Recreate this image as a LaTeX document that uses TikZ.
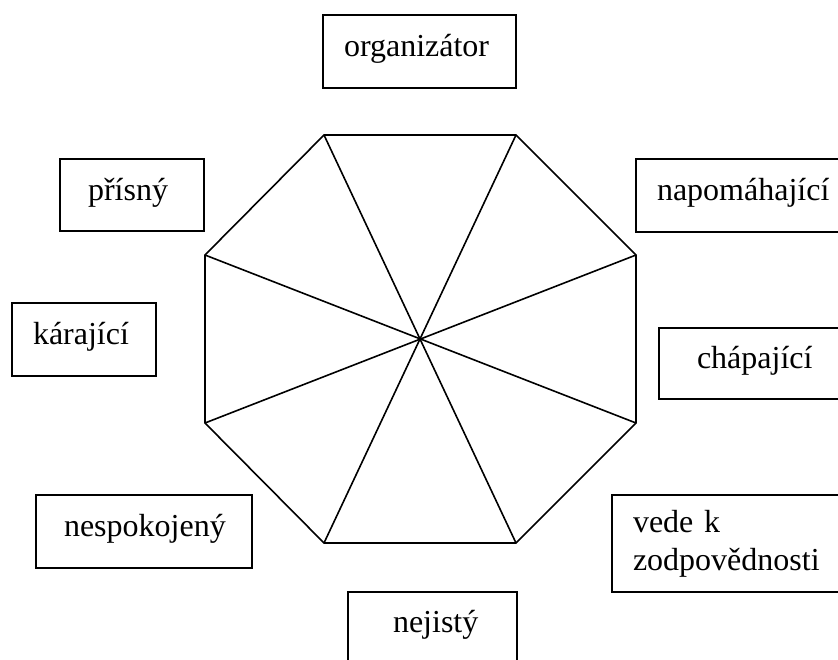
\documentclass[tikz,border=0pt]{standalone}
\usepackage{fontspec}
\setmainfont{Liberation Serif}
\begin{document}
\begin{tikzpicture}[x=1pt,y=-1pt,
  line width=1.6pt, line join=miter,
  lbl/.style={draw=black, line width=1.6pt, rectangle, align=left,
    font=\fontsize{32}{38}\selectfont, inner ysep=0pt},
  oneline/.style={text height=20pt, text depth=10pt}]
\useasboundingbox (0,0) rectangle (838,659);
\clip (0,0) rectangle (838,659);
% octagon vertices
\coordinate (v1) at (324,135);
\coordinate (v2) at (516,135);
\coordinate (v3) at (636,255);
\coordinate (v4) at (636,423);
\coordinate (v5) at (516,543);
\coordinate (v6) at (324,543);
\coordinate (v7) at (205,423);
\coordinate (v8) at (205,255);
\draw (v1) -- (v2) -- (v3) -- (v4) -- (v5) -- (v6) -- (v7) -- (v8) -- cycle;
\draw (v1) -- (v5);
\draw (v2) -- (v6);
\draw (v3) -- (v7);
\draw (v4) -- (v8);
% boxes: centre, width W, height H, left padding p, text width W-2p
\node[lbl, oneline, minimum width=193pt, minimum height=73pt, inner xsep=21pt, text width=151pt] (org) at (419.5,51.5) {organizátor};
\node[lbl, oneline, minimum width=144pt, minimum height=72pt, inner xsep=28pt, text width=88pt] (prisny) at (132,195) {přísný};
\node[lbl, oneline, minimum width=212pt, minimum height=73pt, inner xsep=21pt, text width=170pt] (napom) at (742,195.5) {napomáhající};
\node[lbl, oneline, minimum width=144pt, minimum height=73pt, inner xsep=21pt, text width=102pt] (karajici) at (84,339.5) {kárající};
\node[lbl, oneline, minimum width=189pt, minimum height=71pt, inner xsep=38pt, text width=113pt] (chapajici) at (753.5,363.5) {chápající};
\node[lbl, oneline, minimum width=216pt, minimum height=73pt, inner xsep=28pt, text width=160pt] (nespok) at (144,531.5) {nespokojený};
\node[lbl, minimum width=236pt, minimum height=97pt, inner xsep=21pt, text width=194pt] (vede) at (730,543.5) {vede k\\zodpovědnosti};
\node[lbl, oneline, minimum width=169pt, minimum height=70pt, inner xsep=45pt, text width=79pt] (nejisty) at (432.5,627) {nejistý};
\end{tikzpicture}
\end{document}
